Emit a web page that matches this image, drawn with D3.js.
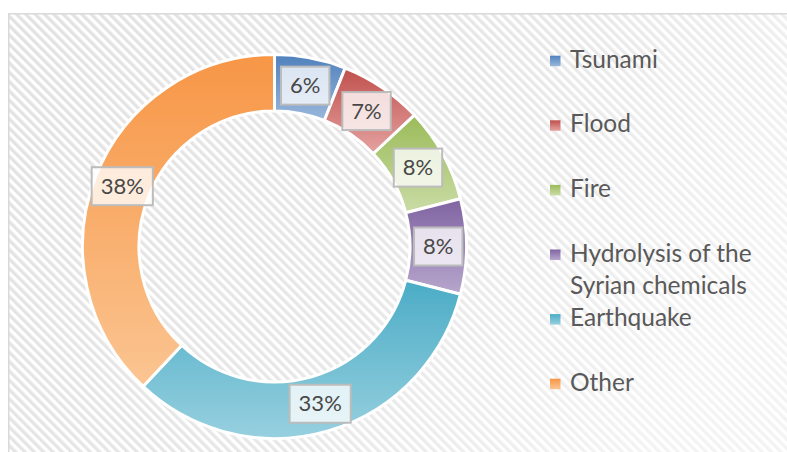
<!DOCTYPE html>
<html>
<head>
<meta charset="utf-8">
<script src="https://cdn.jsdelivr.net/npm/d3@7"></script>
<style>
  html, body { margin: 0; padding: 0; background: #ffffff; }
  svg { display: block; }
</style>
</head>
<body>
<div id="chart"></div>
<script>
// ---- data ----
const categories = ["Tsunami", "Flood", "Fire", "Hydrolysis of the Syrian chemicals", "Earthquake", "Other"];
const values = [6, 7, 8, 8, 33, 38];
const legendLines = [["Tsunami"], ["Flood"], ["Fire"], ["Hydrolysis of the", "Syrian chemicals"], ["Earthquake"], ["Other"]];
const topColors = ["#4F81BD", "#C0504D", "#9BBB59", "#8064A2", "#4BACC6", "#F79646"];
const bottomColors = ["#9AB7DB", "#E4A3A1", "#CADCA6", "#B7A6CC", "#97D0DF", "#FBC592"];

const W = 787, H = 452;
const svg = d3.select("#chart").append("svg").attr("width", W).attr("height", H);
const defs = svg.append("defs");

// background hatch pattern
const pat = defs.append("pattern").attr("id", "hatch")
  .attr("patternUnits", "userSpaceOnUse").attr("width", 6.6).attr("height", 6.6)
  .attr("patternTransform", "rotate(-45)");
pat.append("rect").attr("width", 6.6).attr("height", 6.6).attr("fill", "#ffffff");
pat.append("rect").attr("width", 3.3).attr("height", 6.6).attr("fill", "#e2e2e2");

const fade = defs.append("linearGradient").attr("id", "fade")
  .attr("x1", 0).attr("y1", 0).attr("x2", 1).attr("y2", 0.4);
fade.append("stop").attr("offset", "0%").attr("stop-color", "#fff").attr("stop-opacity", 0.0);
fade.append("stop").attr("offset", "60%").attr("stop-color", "#fff").attr("stop-opacity", 0.2);
fade.append("stop").attr("offset", "100%").attr("stop-color", "#fff").attr("stop-opacity", 0.6);

// slice gradients
categories.forEach((c, i) => {
  const g = defs.append("linearGradient").attr("id", "grad" + i)
    .attr("x1", 0).attr("y1", 0).attr("x2", 0).attr("y2", 1);
  g.append("stop").attr("offset", "0%").attr("stop-color", topColors[i]);
  g.append("stop").attr("offset", "100%").attr("stop-color", bottomColors[i]);
});

// chart area
svg.append("rect").attr("x", 8).attr("y", 13).attr("width", W + 20).attr("height", H + 20)
  .attr("fill", "url(#hatch)");
svg.append("rect").attr("x", 8).attr("y", 13).attr("width", W + 20).attr("height", H + 20)
  .attr("fill", "url(#fade)");
svg.append("rect").attr("x", 8.75).attr("y", 13.75).attr("width", W + 20).attr("height", H + 20)
  .attr("fill", "none").attr("stroke", "#d9d9d9").attr("stroke-width", 1.5);

// donut
const cx = 274.5, cy = 246.5, rOuter = 192, rInner = 135.5;
const pie = d3.pie().sort(null).value(d => d);
const arcs = pie(values);
const arc = d3.arc().innerRadius(rInner).outerRadius(rOuter);
const labelArc = d3.arc().innerRadius((rInner + rOuter) / 2).outerRadius((rInner + rOuter) / 2);

const g = svg.append("g").attr("transform", `translate(${cx},${cy})`);
g.selectAll("path.slice").data(arcs).enter().append("path")
  .attr("class", "slice")
  .attr("d", arc)
  .attr("fill", (d, i) => `url(#grad${i})`)
  .attr("stroke", "#ffffff").attr("stroke-width", 3).attr("stroke-linejoin", "round");

const total = d3.sum(values);
const fmt = v => Math.round(v / total * 100) + "%";

const lab = g.selectAll("g.lab").data(arcs).enter().append("g")
  .attr("class", "lab")
  .attr("transform", d => `translate(${labelArc.centroid(d)})`);
lab.append("rect").attr("class", "box");
lab.append("text")
  .attr("text-anchor", "middle").attr("dy", "0.35em")
  .attr("font-family", "Lato, 'Open Sans', sans-serif").attr("font-size", 22)
  .attr("fill", "#474747")
  .text(d => fmt(d.value));
lab.each(function() {
  const t = d3.select(this).select("text").node().getBBox();
  const w = t.width + 18, h = 38;
  d3.select(this).select("rect")
    .attr("x", -w / 2).attr("y", -h / 2).attr("width", w).attr("height", h)
    .attr("fill", "#ffffff").attr("fill-opacity", 0.78)
    .attr("stroke", "#bcbcbc").attr("stroke-width", 2);
});

// legend
const legX = 550, legTop = 67.7, slot = 64.6, lineH = 32.3;
const leg = svg.append("g");
legendLines.forEach((lines, i) => {
  const base = legTop + i * slot;
  leg.append("rect").attr("x", legX).attr("y", base - 12).attr("width", 10.5).attr("height", 10.5)
    .attr("fill", `url(#grad${i})`);
  lines.forEach((ln, j) => {
    leg.append("text").attr("x", legX + 20).attr("y", base + j * lineH)
      .attr("font-family", "Lato, 'Open Sans', sans-serif").attr("font-size", 24.5)
      .attr("fill", "#595959").text(ln);
  });
});
</script>
</body>
</html>
